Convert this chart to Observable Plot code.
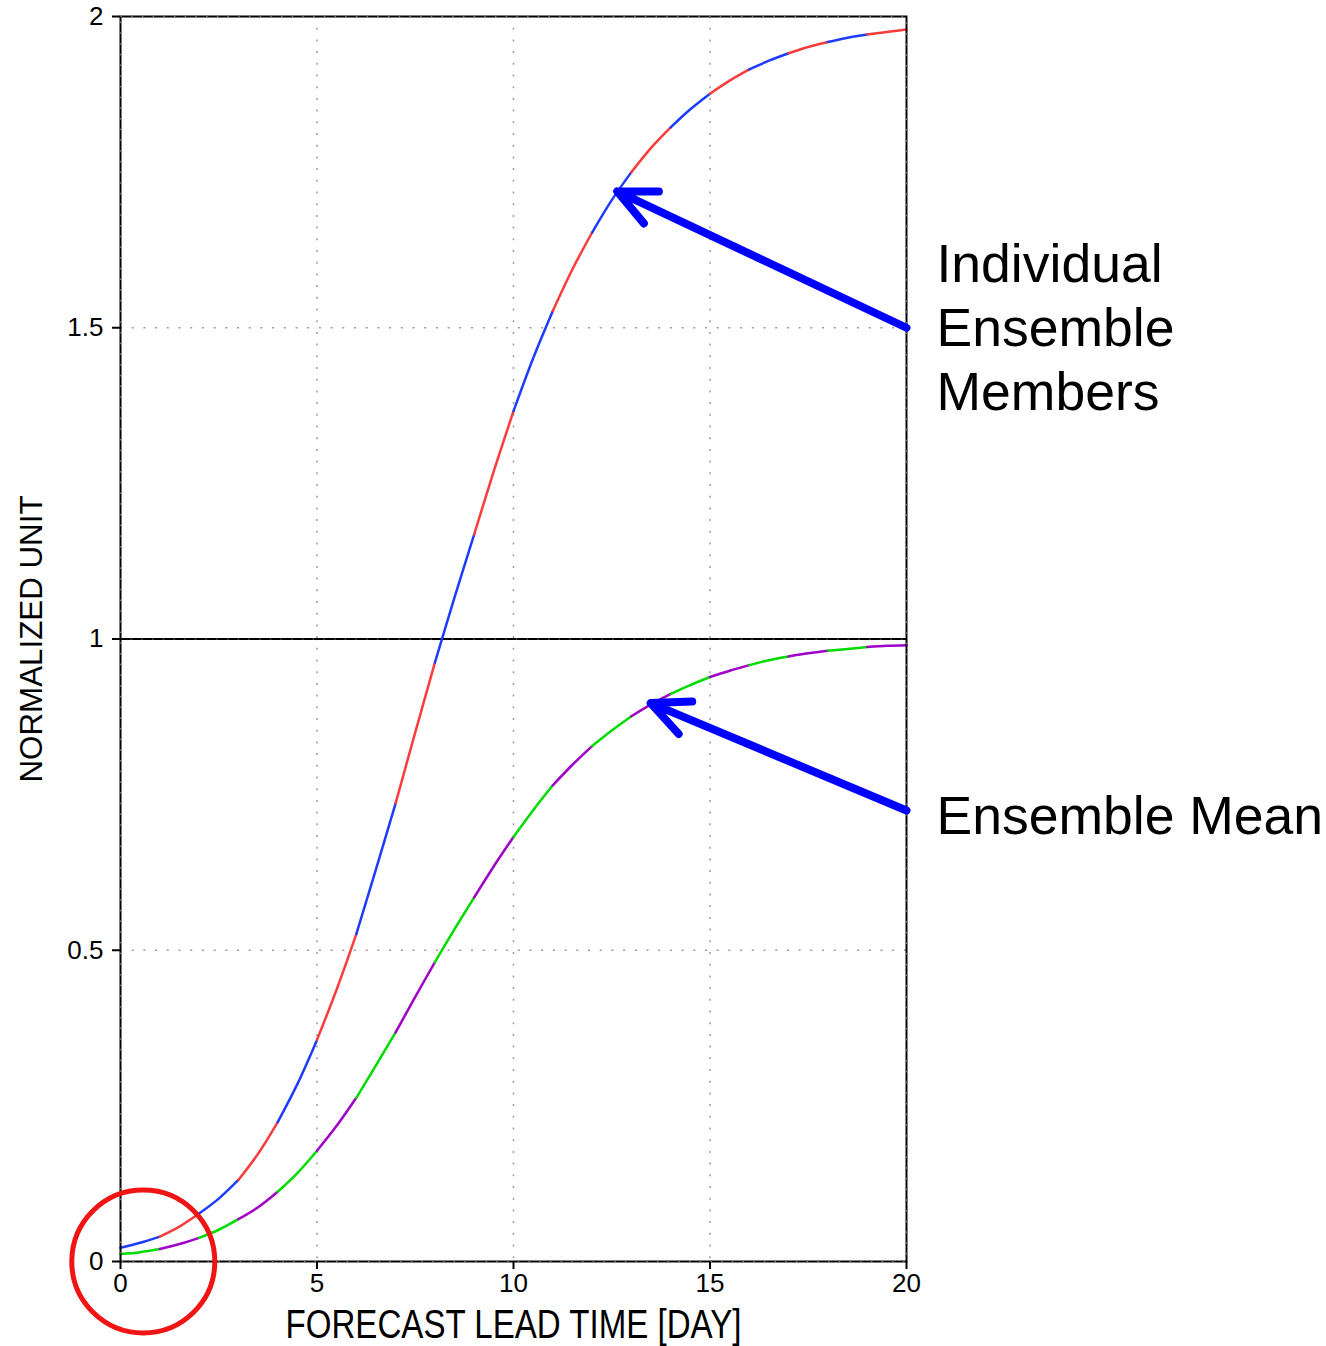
<!DOCTYPE html>
<html>
<head>
<meta charset="utf-8">
<script src="https://cdn.jsdelivr.net/npm/d3@7"></script>
<script src="https://cdn.jsdelivr.net/npm/@observablehq/plot@0.6"></script>
<style>
  html, body { margin: 0; padding: 0; background: #fff; }
</style>
</head>
<body>
<div id="chart"></div>
<script>
// Forecast lead time (days), sampled every half day
const leadDays = [0, 0.5, 1, 1.5, 2, 2.5, 3, 3.5, 4, 4.5, 5, 5.5, 6, 6.5, 7, 7.5, 8, 8.5, 9, 9.5,
  10, 10.5, 11, 11.5, 12, 12.5, 13, 13.5, 14, 14.5, 15, 15.5, 16, 16.5, 17, 17.5, 18, 18.5, 19, 19.5, 20];

// Error growth of the individual ensemble members (normalized units)
const memberValues = [0.022, 0.030, 0.040, 0.056, 0.077, 0.101, 0.131, 0.173, 0.224, 0.285,
  0.356, 0.437, 0.526, 0.630, 0.736, 0.850, 0.962, 1.067, 1.168, 1.270,
  1.366, 1.451, 1.527, 1.594, 1.653, 1.705, 1.750, 1.789, 1.822, 1.851,
  1.876, 1.897, 1.915, 1.929, 1.941, 1.951, 1.959, 1.966, 1.971, 1.975, 1.979];

// Error growth of the ensemble mean (normalized units)
const meanValues = [0.012, 0.015, 0.020, 0.028, 0.038, 0.051, 0.068, 0.087, 0.112, 0.142,
  0.178, 0.218, 0.263, 0.315, 0.368, 0.425, 0.481, 0.534, 0.585, 0.635,
  0.682, 0.725, 0.765, 0.798, 0.828, 0.853, 0.876, 0.895, 0.912, 0.926,
  0.939, 0.949, 0.958, 0.966, 0.972, 0.977, 0.981, 0.984, 0.987, 0.989, 0.990];

const xTicks = [0, 5, 10, 15, 20];
const yTicks = [0, 0.5, 1, 1.5, 2];
const xGrid = [5, 10, 15];
const yGrid = [0.5, 1.5];
const saturation = [1];

const xTitle = "FORECAST LEAD TIME [DAY]";
const yTitle = "NORMALIZED UNIT";

// Alternating colours, one per day of lead time
const memberColors = ["rgb(30,60,255)", "rgb(250,60,60)"];
const meanColors = ["rgb(0,220,0)", "rgb(160,0,200)"];

// Callouts: text at the right of the frame, arrow pointing onto each curve
const callouts = [
  {text: "Individual\nEnsemble\nMembers", fromDay: 20, fromValue: 1.5, toDay: 12.64, toValue: 1.719, textValue: 1.5035},
  {text: "Ensemble Mean", fromDay: 20, fromValue: 0.7245, toDay: 13.49, toValue: 0.897, textValue: 0.7195}
];

// Initial-error region
const highlight = [{day: 0.58, value: 0}];

// Split a series into one-day pieces so each piece gets its own colour
function dailyPieces(values, colors, name) {
  const rows = [];
  leadDays.forEach((day, i) => {
    const piece = Math.floor(day);
    if (piece < 20) rows.push({day, value: values[i], piece: name + piece, color: colors[piece % 2]});
    if (Number.isInteger(day) && day > 0) {
      const prev = day - 1;
      rows.push({day, value: values[i], piece: name + prev, color: colors[prev % 2]});
    }
  });
  return rows;
}

const memberRows = dailyPieces(memberValues, memberColors, "m");
const meanRows = dailyPieces(meanValues, meanColors, "e");

const sans = "'Liberation Sans', Arial, Helvetica, sans-serif";

const chart = Plot.plot({
  width: 1326,
  height: 1346,
  marginLeft: 120,
  marginRight: 420,
  marginTop: 16,
  marginBottom: 85,
  style: {fontFamily: sans, fontSize: "26px", color: "black", background: "white"},
  x: {domain: [0, 20], ticks: xTicks, tickSize: 8, tickPadding: 4, label: null, tickFormat: d => String(d)},
  y: {domain: [0, 2], ticks: yTicks, tickSize: 8, tickPadding: 9, label: null, tickFormat: d => String(d)},
  color: {type: "identity"},
  marks: [
    Plot.ruleX(xGrid, {stroke: "#9a9a9a", strokeWidth: 1.5, strokeDasharray: "2 9.7"}),
    Plot.ruleY(yGrid, {stroke: "#9a9a9a", strokeWidth: 1.5, strokeDasharray: "2 9.7"}),
    Plot.ruleY(saturation, {stroke: "black", strokeWidth: 2}),
    Plot.ruleY(saturation, {stroke: "white", strokeOpacity: 0.6, strokeWidth: 0.8, strokeDasharray: "1.5 9.2"}),
    Plot.line(memberRows, {x: "day", y: "value", z: "piece", stroke: "color", strokeWidth: 2.5, curve: "catmull-rom"}),
    Plot.line(meanRows, {x: "day", y: "value", z: "piece", stroke: "color", strokeWidth: 2.5, curve: "catmull-rom"}),
    Plot.frame({stroke: "black", strokeWidth: 2}),
    Plot.frame({stroke: "white", strokeOpacity: 0.6, strokeWidth: 0.8, strokeDasharray: "1.5 9.2"}),
    Plot.dot(highlight, {x: "day", y: "value", r: 71.5, stroke: "#f01414", strokeWidth: 5, fill: "none"}),
    Plot.arrow(callouts, {
      x1: "fromDay", y1: "fromValue", x2: "toDay", y2: "toValue",
      stroke: "#0000ff", strokeWidth: 8, headAngle: 50, headLength: 7.8,
      strokeLinecap: "round", strokeLinejoin: "round"
    }),
    Plot.text(callouts, {
      x: "fromDay", y: "textValue", text: "text", dx: 30, textAnchor: "start",
      fontSize: 53.5, lineHeight: 1.2, fontFamily: sans, fill: "black"
    }),
    Plot.text([xTitle], {
      text: d => d, frameAnchor: "bottom", dy: 76, fontSize: 40, fill: "black"
    }),
    Plot.text([yTitle], {
      text: d => d, frameAnchor: "left", textAnchor: "middle", rotate: -90, dx: -89, fontSize: 32, fill: "black"
    })
  ]
});

document.getElementById("chart").appendChild(chart);

// Axis titles are stretched to the width of the frame's lettering
const svg = d3.select(chart);
svg.selectAll("text").each(function () {
  const t = this.textContent;
  if (t === xTitle) d3.select(this).attr("textLength", 456).attr("lengthAdjust", "spacingAndGlyphs");
  if (t === yTitle) d3.select(this).attr("textLength", 287).attr("lengthAdjust", "spacingAndGlyphs");
});
// Heavier tick marks
svg.selectAll('g[aria-label$="-axis tick"]').attr("stroke-width", 2);
svg.selectAll('g[aria-label="x-axis"] line, g[aria-label="y-axis"] line').attr("stroke-width", 2);
</script>
</body>
</html>
